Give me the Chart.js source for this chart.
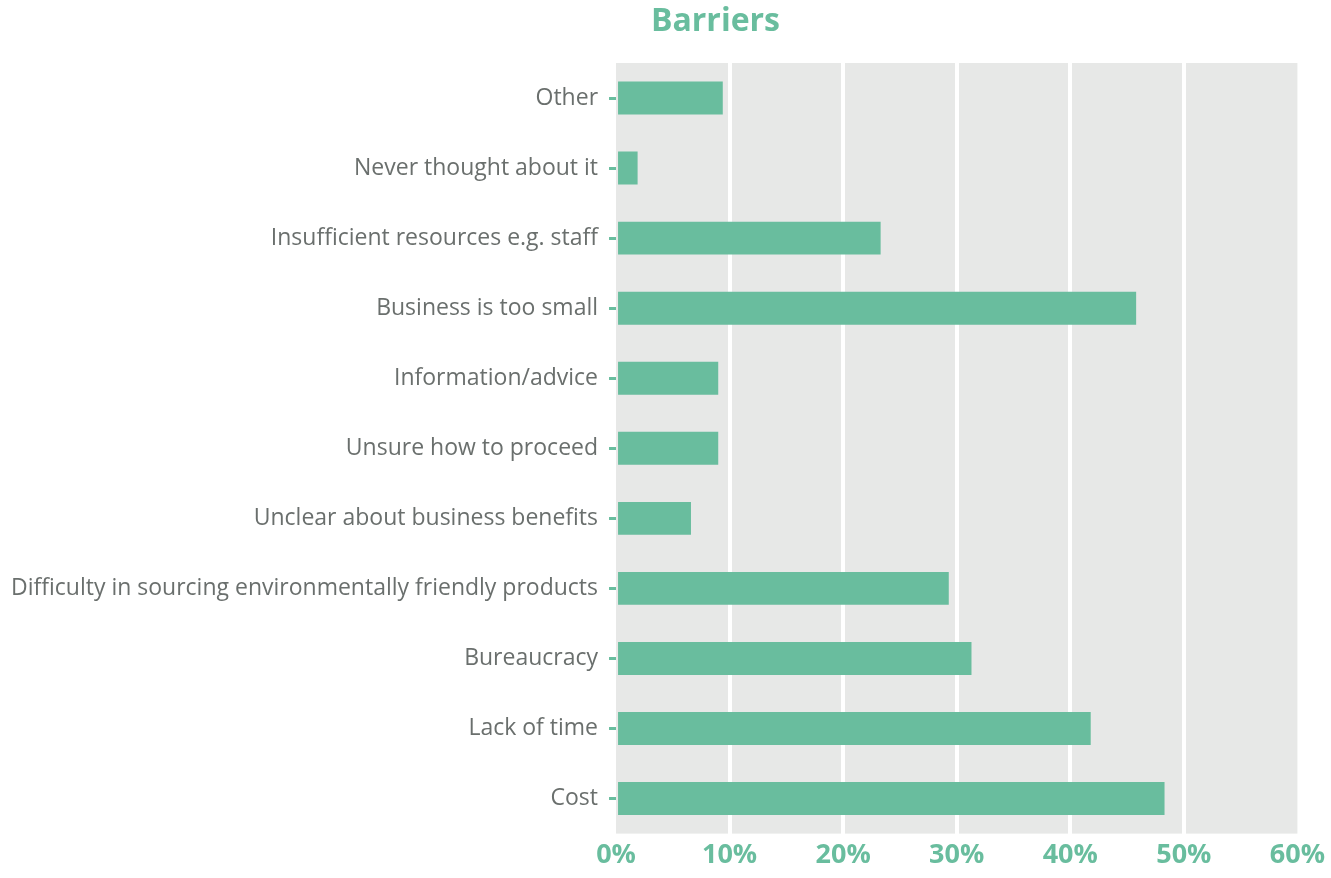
<!DOCTYPE html>
<html>
<head>
<meta charset="utf-8">
<script src="https://cdn.jsdelivr.net/npm/chart.js@4"></script>
<style>
  html, body { margin: 0; padding: 0; background: #fff; }
  #wrap { width: 1331px; height: 878px; }
</style>
</head>
<body>
<div id="wrap"><canvas id="barChart"></canvas></div>
<script>
  // --- Data ---
  const categories = [
    "Other",
    "Never thought about it",
    "Insufficient resources e.g. staff",
    "Business is too small",
    "Information/advice",
    "Unsure how to proceed",
    "Unclear about business benefits",
    "Difficulty in sourcing environmentally friendly products",
    "Bureaucracy",
    "Lack of time",
    "Cost"
  ];
  const values = [9.4, 1.9, 23.3, 45.8, 9.0, 9.0, 6.6, 29.3, 31.3, 41.8, 48.3];
  const xTicks = [0, 10, 20, 30, 40, 50, 60];

  const green = "#69bd9e";
  const panelGrey = "#e7e8e7";
  const labelGrey = "#6a6f6d";
  const font = "'Open Sans', sans-serif";

  // grey panel behind the bars
  const panelBg = {
    id: "panelBg",
    beforeDraw(chart) {
      const { ctx, chartArea: a } = chart;
      ctx.save();
      ctx.fillStyle = panelGrey;
      ctx.fillRect(a.left, a.top, a.right - a.left, a.bottom - a.top);
      ctx.restore();
    }
  };

  // title sits a bit right of the page centre in the original
  const titleText = {
    id: "titleText",
    afterDraw(chart) {
      const { ctx } = chart;
      ctx.save();
      ctx.font = "bold 32px " + font;
      ctx.fillStyle = green;
      ctx.textAlign = "center";
      ctx.textBaseline = "middle";
      ctx.fillText("Barriers", chart.width / 2 + 50, 22);
      ctx.restore();
    }
  };

  const ctx = document.getElementById("barChart").getContext("2d");
  new Chart(ctx, {
    type: "bar",
    data: {
      labels: categories,
      datasets: [{
        data: values,
        backgroundColor: green,
        barPercentage: 0.94,
        categoryPercentage: 0.5
      }]
    },
    options: {
      indexAxis: "y",
      responsive: true,
      maintainAspectRatio: false,
      animation: false,
      layout: { padding: { top: 63, left: 0, right: 5, bottom: 0 } },
      plugins: {
        legend: { display: false },
        tooltip: { enabled: false }
      },
      scales: {
        x: {
          min: 0,
          max: 60,
          afterBuildTicks: axis => { axis.ticks = xTicks.map(v => ({ value: v })); },
          border: { display: false },
          grid: {
            color: c => (c.tick && (c.tick.value === 0 || c.tick.value === 60)) ? "rgba(0,0,0,0)" : "#ffffff",
            lineWidth: 4,
            drawTicks: false
          },
          ticks: {
            padding: 6,
            color: green,
            font: { family: font, size: 27, weight: "bold" },
            callback: v => v + "%"
          }
        },
        y: {
          border: { display: false },
          grid: {
            offset: false,
            drawOnChartArea: false,
            drawTicks: true,
            tickLength: 7,
            tickWidth: 3,
            tickColor: green
          },
          ticks: {
            padding: 11,
            color: labelGrey,
            font: { family: font, size: 23 }
          }
        }
      }
    },
    plugins: [panelBg, titleText]
  });
</script>
</body>
</html>
